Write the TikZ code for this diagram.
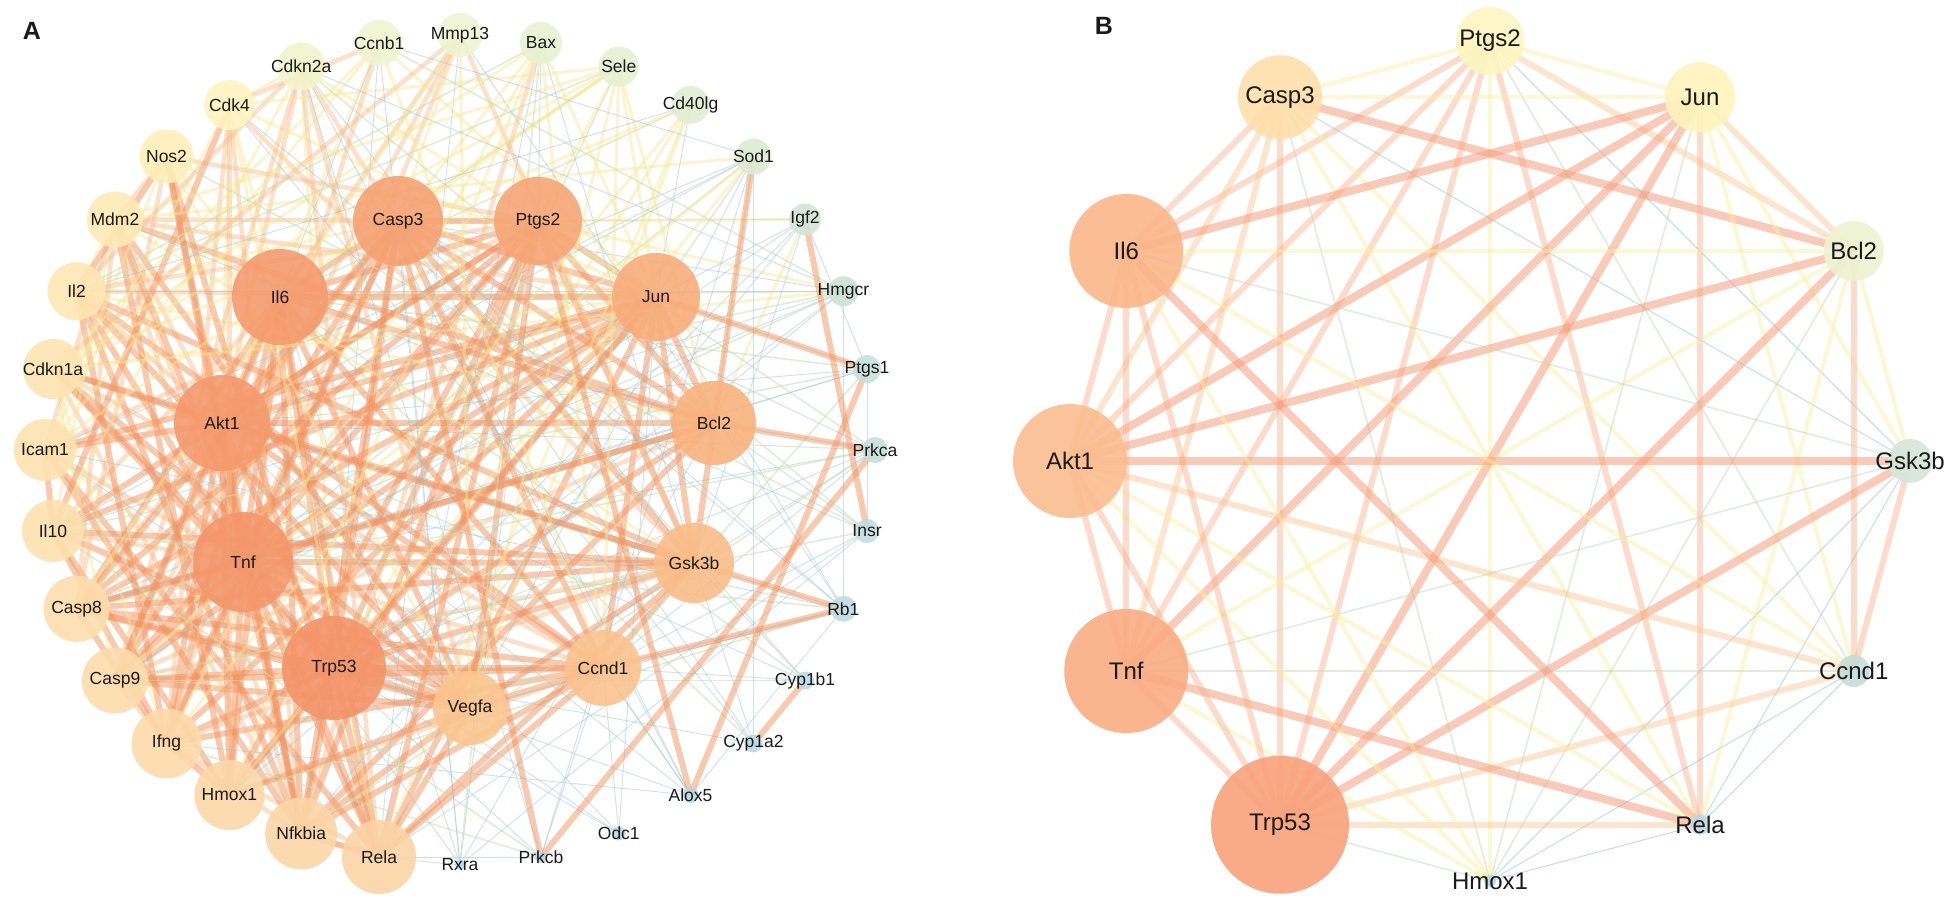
\documentclass[tikz,border=0pt]{standalone}
\usepackage{fontspec}
\setmainfont{Liberation Sans}
\usetikzlibrary{calc}
\pgfdeclarelayer{bg}
\pgfsetlayers{bg,main}
\definecolor{eblue}{HTML}{9CC4DA}
\definecolor{egreen}{HTML}{C8E0AE}
\definecolor{eyel}{HTML}{F8E896}
\definecolor{emed}{HTML}{F9BC8A}
\definecolor{ethick}{HTML}{F4955F}
\definecolor{bthick}{HTML}{F7A07E}
\definecolor{bmed}{HTML}{F9B08A}
\definecolor{bpeach}{HTML}{FBC590}
\definecolor{byel}{HTML}{FBF0A0}
\definecolor{bgreen}{HTML}{C9DDBE}
\definecolor{txt}{HTML}{1A1A1A}
\begin{document}
\begin{tikzpicture}[x=1pt,y=-1pt,
  gn/.style={circle, draw=none, inner sep=0pt, fill opacity=0.9},
  labA/.style={font=\fontsize{17.5}{19}\selectfont, text=txt, inner sep=0pt},
  labB/.style={font=\fontsize{24}{26}\selectfont, text=txt, inner sep=0pt},
  panel/.style={font=\bfseries\fontsize{25}{25}\selectfont, text=txt, inner sep=0pt},
  ew0/.style={draw=eblue, line width=0.9pt, opacity=0.5},
  ew4/.style={draw=egreen, line width=1.6pt, opacity=0.55},
  ew1/.style={draw=eyel, line width=3pt, opacity=0.45},
  ew2/.style={draw=emed, line width=4.5pt, opacity=0.45},
  ew3/.style={draw=ethick, line width=6pt, opacity=0.5},
  bB/.style={draw=eblue, line width=1.1pt, opacity=0.55},
  bG/.style={draw=bgreen, line width=1.6pt, opacity=0.55},
  bY/.style={draw=byel, line width=4pt, opacity=0.45},
  bP/.style={draw=bpeach, line width=6pt, opacity=0.45},
  bM/.style={draw=bmed, line width=6pt, opacity=0.45},
  bT/.style={draw=bthick, line width=8pt, opacity=0.55}]
\begin{pgfonlayer}{bg}
\fill[white] (0,0) rectangle (1952,915);
\end{pgfonlayer}
\useasboundingbox (0,0) rectangle (1952,915);

% ---------------- Panel A ----------------
\node[panel] (pA) at (32,31) {A};
\foreach \n/\k/\rr/\cc in {Mmp13/0/22/EEF4D2, Bax/1/21/E9F1D2, Sele/2/20/E7F0D3, Cd40lg/3/19/E3EED3,
  Sod1/4/18/DDEBD4, Igf2/5/16/D3E6D6, Hmgcr/6/15/CCE2D8, Ptgs1/7/14/C8E0DA, Prkca/8/13/C6DFDC,
  Insr/9/12/C3DDDF, Rb1/10/13/C2DCE0, Cyp1b1/11/9/BFDAE2, Cyp1a2/12/9/BED9E3, Alox5/13/8/BCD8E4,
  Odc1/14/7/BBD7E5, Prkcb/15/6/BAD6E5, Rxra/16/5/B8D5E6, Rela/17/37/FCD4A6, Nfkbia/18/36/FCD6A7,
  Hmox1/19/35/FCD8A9, Ifng/20/35/FDDAAA, Casp9/21/33/FDDCAC, Casp8/22/33/FDDEAD, Il10/23/31/FDE1AF,
  Icam1/24/31/FDE3B0, Cdkn1a/25/30/FDE5B2, Il2/26/29/FEE7B3, Mdm2/27/28/FEEBB6, Nos2/28/27/FEEFB9,
  Cdk4/29/25/FEF5C0, Cdkn2a/30/24/F2F5CC, Ccnb1/31/23/EFF4D0}{
  \definecolor{tmpc}{HTML}{\cc}
  \node[gn, fill=tmpc, minimum size=2*\rr] (a-\n) at ($(460,450)+({-90+11.25*\k}:415)$) {};
  \node[labA] (a-\n-l) at (a-\n.center) {\n};
}
\foreach \n/\x/\y/\rr/\cc in {Casp3/398/221/45/F6A273, Ptgs2/538/221/44/F7A676, Jun/656/297/44/F8AD7B,
  Bcl2/714/423/42/F9B37F, Gsk3b/694/563/40/FABD88, Ccnd1/603/668/38/FBC38E, Vegfa/470/708/37/FBC690,
  Trp53/334/668/52/F4946A, Tnf/243/562/50/F4976C, Akt1/222/423/48/F59A6E, Il6/280/297/48/F59B6F}{
  \definecolor{tmpc}{HTML}{\cc}
  \node[gn, fill=tmpc, minimum size=2*\rr] (a-\n) at (\x,\y) {};
  \node[labA] (a-\n-l) at (a-\n.center) {\n};
}
\def\listA{Trp53/1.0,Tnf/0.98,Akt1/0.97,Il6/0.96,Casp3/0.93,Ptgs2/0.92,Jun/0.91,Bcl2/0.9,Gsk3b/0.86,Ccnd1/0.84,Vegfa/0.83,Rela/0.8,Nfkbia/0.78,Hmox1/0.76,Ifng/0.75,Casp9/0.72,Casp8/0.71,Il10/0.68,Icam1/0.67,Cdkn1a/0.65,Il2/0.63,Mdm2/0.61,Nos2/0.59,Cdk4/0.55,Cdkn2a/0.52,Ccnb1/0.5,Mmp13/0.48,Bax/0.46,Sele/0.44,Cd40lg/0.42,Sod1/0.4,Igf2/0.36,Hmgcr/0.33,Ptgs1/0.31,Prkca/0.29,Insr/0.27,Rb1/0.25,Cyp1b1/0.22,Cyp1a2/0.2,Alox5/0.18,Odc1/0.16,Prkcb/0.14,Rxra/0.12}
\begin{pgfonlayer}{bg}
\pgfmathsetseed{12}
\foreach \na/\aa [count=\i] in \listA {
  \foreach \nb/\ab [count=\j] in \listA {
    \ifnum\j>\i\relax
      \pgfmathsetmacro\pp{1.15*((\aa+\ab)/2)^2.3}
      \pgfmathsetmacro\rd{rnd}
      \ifdim\rd pt<\pp pt\relax
        \pgfmathsetmacro\sc{min(\aa,\ab)*(0.75+0.5*rnd)}
        \pgfmathtruncatemacro\cls{(\sc>0.64)?3:((\sc>0.53)?2:((\sc>0.41)?1:((rnd<0.3)?4:0)))}
        \draw[ew\cls] (a-\na.center) -- (a-\nb.center);
      \fi
    \fi
  }
}
\foreach \u/\v in {Igf2/Insr, Sod1/Bcl2, Cyp1b1/Cyp1a2, Rb1/Ccnd1, Rb1/Gsk3b, Jun/Ptgs1,
  Alox5/Ptgs2, Alox5/Ptgs1, Prkcb/Casp3, Prkcb/Prkca, Rela/Nfkbia, Bcl2/Prkca}
  \draw[ew3] (a-\u.center) -- (a-\v.center);
\foreach \u/\v in {Rela/Rxra, Odc1/Ccnd1, Odc1/Jun, Cyp1a2/Gsk3b, Cyp1b1/Ccnd1, Alox5/Ccnd1}
  \draw[ew0] (a-\u.center) -- (a-\v.center);
\end{pgfonlayer}

% ---------------- Panel B ----------------
\node[panel] (pB) at (1104,26) {B};
\foreach \n/\k/\rr/\cc in {Ptgs2/0/34/FEF6C0, Jun/1/35/FEF4BD, Bcl2/2/30/EEF3D2, Gsk3b/3/22/D5E6D8,
  Ccnd1/4/16/C5DDDB, Rela/5/10/BED8E2, Hmox1/6/6/BCD6E5, Trp53/7/69/F9A27C, Tnf/8/62/FAAC82,
  Akt1/9/57/FBBD8F, Il6/10/57/FBB688, Casp3/11/42/FEDFA9}{
  \definecolor{tmpc}{HTML}{\cc}
  \node[gn, fill=tmpc, minimum size=2*\rr] (b-\n) at ($(1490,461)+({-90+30*\k}:420)$) {};
  \node[labB] (b-\n-l) at (b-\n.center) {\n};
}
\begin{pgfonlayer}{bg}
\foreach \u/\v/\st in {
  Ptgs2/Jun/bY, Ptgs2/Casp3/bY, Ptgs2/Bcl2/bP, Ptgs2/Il6/bM, Ptgs2/Akt1/bM, Ptgs2/Tnf/bM,
  Ptgs2/Trp53/bM, Ptgs2/Hmox1/bY, Ptgs2/Rela/bM, Ptgs2/Gsk3b/bB, Ptgs2/Ccnd1/bG,
  Casp3/Jun/bY, Casp3/Il6/bM, Casp3/Akt1/bP, Casp3/Tnf/bP, Casp3/Trp53/bM, Casp3/Bcl2/bT,
  Casp3/Gsk3b/bB, Casp3/Ccnd1/bY, Casp3/Rela/bY, Casp3/Hmox1/bG,
  Jun/Il6/bT, Jun/Akt1/bT, Jun/Tnf/bT, Jun/Trp53/bT, Jun/Bcl2/bP, Jun/Gsk3b/bY, Jun/Ccnd1/bY,
  Jun/Rela/bM, Jun/Hmox1/bG,
  Bcl2/Il6/bY, Bcl2/Akt1/bT, Bcl2/Tnf/bY, Bcl2/Trp53/bT, Bcl2/Gsk3b/bY, Bcl2/Ccnd1/bM,
  Bcl2/Rela/bY, Bcl2/Hmox1/bG,
  Gsk3b/Akt1/bT, Gsk3b/Il6/bG, Gsk3b/Tnf/bG, Gsk3b/Trp53/bT, Gsk3b/Ccnd1/bM, Gsk3b/Rela/bB,
  Gsk3b/Hmox1/bB,
  Ccnd1/Akt1/bP, Ccnd1/Tnf/bG, Ccnd1/Trp53/bP, Ccnd1/Rela/bB, Ccnd1/Hmox1/bB, Ccnd1/Il6/bY,
  Rela/Il6/bT, Rela/Tnf/bT, Rela/Trp53/bP, Rela/Akt1/bY, Rela/Hmox1/bB,
  Hmox1/Trp53/bG, Hmox1/Tnf/bY, Hmox1/Akt1/bY, Hmox1/Il6/bY,
  Trp53/Tnf/bM, Trp53/Akt1/bM, Trp53/Il6/bM, Tnf/Akt1/bM, Tnf/Il6/bM, Akt1/Il6/bM}
  \draw[\st] (b-\u.center) -- (b-\v.center);
\end{pgfonlayer}
\end{tikzpicture}
\end{document}
